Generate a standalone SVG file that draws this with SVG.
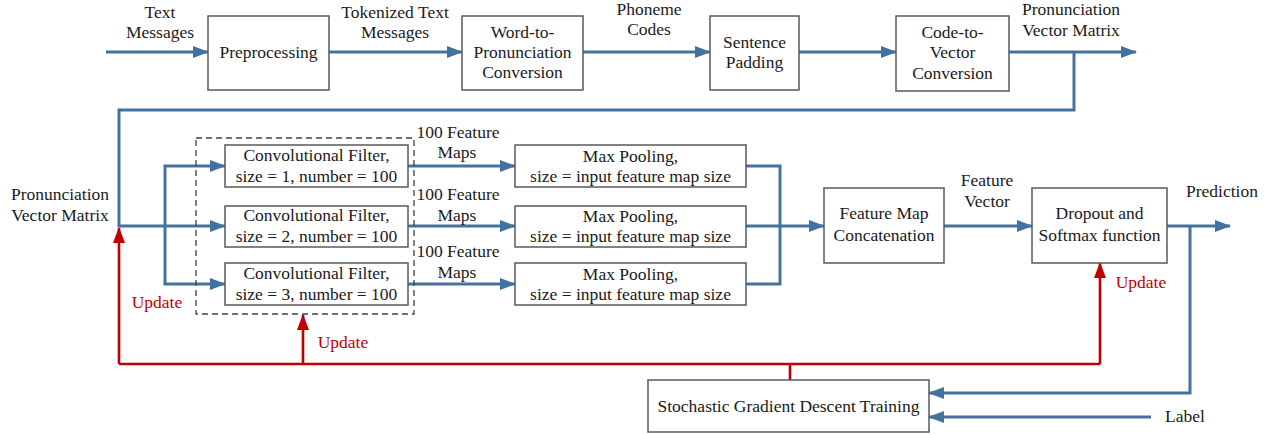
<svg xmlns="http://www.w3.org/2000/svg" width="1271" height="435" viewBox="0 0 1271 435">
<style>
.box{fill:#fff;stroke:#595959;stroke-width:1.5}
.dash{fill:none;stroke:#404040;stroke-width:1.3;stroke-dasharray:6,4}
text{font-family:'Liberation Serif','Times New Roman','DejaVu Serif',serif;font-size:17.5px;fill:#1a1a1a;text-anchor:middle}
.r{fill:#c00000}
.bl{fill:none;stroke:#4472a0;stroke-width:3}
.rd{fill:none;stroke:#c00000;stroke-width:2.6}
</style>
<defs>
<marker id="ab" markerUnits="userSpaceOnUse" markerWidth="16" markerHeight="12" refX="15" refY="6" orient="auto"><path d="M0,0 L16,6 L0,12 Z" fill="#4472a0"/></marker>
<marker id="ar" markerUnits="userSpaceOnUse" markerWidth="16" markerHeight="12" refX="15" refY="6" orient="auto"><path d="M0,0 L16,6 L0,12 Z" fill="#c00000"/></marker>
</defs>
<g id="connectors">
<path class="bl" d="M106,52 H208" marker-end="url(#ab)"/>
<path class="bl" d="M329,52 H462" marker-end="url(#ab)"/>
<path class="bl" d="M583,52 H710" marker-end="url(#ab)"/>
<path class="bl" d="M799,52 H896" marker-end="url(#ab)"/>
<path class="bl" d="M1009,52 H1136" marker-end="url(#ab)"/>
<path class="bl" d="M1074,52 V110 H119 V226 H225" marker-end="url(#ab)"/>
<path class="bl" d="M165,226 V166 H225" marker-end="url(#ab)"/>
<path class="bl" d="M165,226 V284 H225" marker-end="url(#ab)"/>
<path class="bl" d="M408,166 H515" marker-end="url(#ab)"/>
<path class="bl" d="M408,226 H515" marker-end="url(#ab)"/>
<path class="bl" d="M408,284 H515" marker-end="url(#ab)"/>
<path class="bl" d="M746,166 H780 V284 H746"/>
<path class="bl" d="M746,226 H824" marker-end="url(#ab)"/>
<path class="bl" d="M944,226 H1032" marker-end="url(#ab)"/>
<path class="bl" d="M1167,226 H1230" marker-end="url(#ab)"/>
<path class="bl" d="M1190,226 V393 H929" marker-end="url(#ab)"/>
<path class="bl" d="M1151,417 H929" marker-end="url(#ab)"/>
<path class="rd" d="M119,364 H1100"/>
<path class="rd" d="M790,364 V380"/>
<path class="rd" d="M119,364 V228" marker-end="url(#ar)"/>
<path class="rd" d="M303,364 V315" marker-end="url(#ar)"/>
<path class="rd" d="M1100,364 V263" marker-end="url(#ar)"/>
</g>
<g id="labels">
<text x="160" y="18">Text</text>
<text x="160" y="38">Messages</text>
<text x="395" y="18">Tokenized Text</text>
<text x="395" y="38">Messages</text>
<text x="649" y="15">Phoneme</text>
<text x="649" y="35">Codes</text>
<text x="1071" y="15">Pronunciation</text>
<text x="1071" y="36">Vector Matrix</text>
<text x="60" y="200">Pronunciation</text>
<text x="60" y="221">Vector Matrix</text>
<text x="458" y="138">100 Feature</text>
<text x="457" y="158">Maps</text>
<text x="458" y="200">100 Feature</text>
<text x="457" y="221">Maps</text>
<text x="458" y="257">100 Feature</text>
<text x="457" y="278">Maps</text>
<text x="987" y="186">Feature</text>
<text x="987" y="207">Vector</text>
<text x="1222" y="197">Prediction</text>
<text x="1185" y="422">Label</text>
<text class="r" x="157" y="308">Update</text>
<text class="r" x="343" y="348">Update</text>
<text class="r" x="1141" y="288">Update</text>
</g>
<g id="preprocessing"><rect class="box" x="208" y="16" width="121" height="74"/><text x="268.5" y="58">Preprocessing</text></g>
<g id="word2pron"><rect class="box" x="462" y="16" width="121" height="74"/><text x="522.5" y="38">Word-to-</text><text x="522.5" y="58">Pronunciation</text><text x="522.5" y="78">Conversion</text></g>
<g id="padding"><rect class="box" x="710" y="16" width="89" height="74"/><text x="754.5" y="48">Sentence</text><text x="754.5" y="68">Padding</text></g>
<g id="code2vec"><rect class="box" x="896" y="16" width="113" height="75"/><text x="952.5" y="38">Code-to-</text><text x="952.5" y="58">Vector</text><text x="952.5" y="79">Conversion</text></g>
<g id="filters"><rect class="dash" x="196" y="138" width="218" height="176"/></g>
<g id="conv1"><rect class="box" x="225" y="145" width="183" height="42"/><text x="316.5" y="161">Convolutional Filter,</text><text x="316.5" y="182">size = 1, number = 100</text></g>
<g id="conv2"><rect class="box" x="225" y="206" width="183" height="41"/><text x="316.5" y="221">Convolutional Filter,</text><text x="316.5" y="242">size = 2, number = 100</text></g>
<g id="conv3"><rect class="box" x="225" y="263" width="183" height="42"/><text x="316.5" y="279">Convolutional Filter,</text><text x="316.5" y="300">size = 3, number = 100</text></g>
<g id="pool1"><rect class="box" x="515" y="145" width="231" height="42"/><text x="630.5" y="162">Max Pooling,</text><text x="630.5" y="182">size = input feature map size</text></g>
<g id="pool2"><rect class="box" x="515" y="206" width="231" height="41"/><text x="630.5" y="222">Max Pooling,</text><text x="630.5" y="242">size = input feature map size</text></g>
<g id="pool3"><rect class="box" x="515" y="263" width="231" height="42"/><text x="630.5" y="280">Max Pooling,</text><text x="630.5" y="300">size = input feature map size</text></g>
<g id="concat"><rect class="box" x="824" y="188" width="120" height="75"/><text x="884" y="219">Feature Map</text><text x="884" y="241">Concatenation</text></g>
<g id="dropout"><rect class="box" x="1032" y="188" width="135" height="75"/><text x="1099.5" y="219">Dropout and</text><text x="1099.5" y="241">Softmax function</text></g>
<g id="sgd"><rect class="box" x="648" y="380" width="281" height="52"/><text x="788.5" y="412">Stochastic Gradient Descent Training</text></g>
</svg>
